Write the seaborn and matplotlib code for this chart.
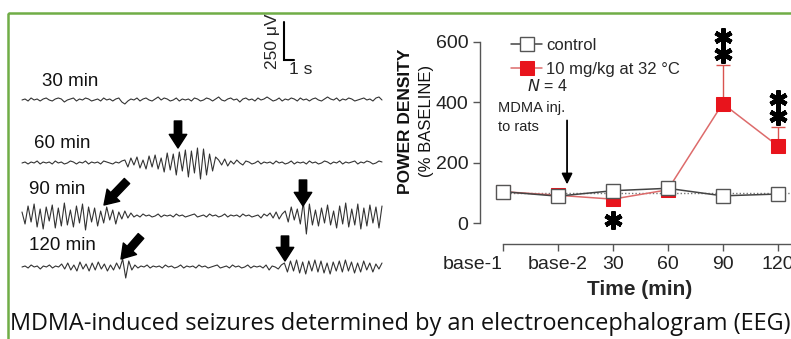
import numpy as np
import pandas as pd
import matplotlib
matplotlib.use("Agg")
import matplotlib.pyplot as plt
import seaborn as sns
from matplotlib.patches import Rectangle

# power density data (% baseline)
times = ["base-1", "base-2", "30", "60", "90", "120"]
control = [104, 89, 107, 115, 90, 96]
mdma = [104, 92, 79, 110, 396, 256]
mdma_err = [0, 0, 0, 0, 127, 61]
stars = [0, 0, 1, 0, 2, 2]

# EEG traces (deflection in px, hand)
eeg_labels = ["30 min", "60 min", "90 min", "120 min"]
eeg_30 = [0, 1, -1, 2, 0, 1, -1, 1, 2, 0, -1, 1, 2, 1, -2, 0, 1, 2, -1, 1, 0, 2, 1, -1, 0, 1, -1, 2, 0, 1,
          -1, 1, 2, -2, -4, -1, 1, 0, 2, -1, 1, 2, 0, -1, 1, 3, 0, 2, 1, -1, 0, 2, -1, 1, 0, 1, -1, 2, 1, -1,
          0, 2, 1, -1, 1, 3, 0, -1, 1, 2, 0, 1, -2, 1, 2, 0, 1, -1, 2, 0, 1, 3, 1, -1, 0, 2, -1, 1, 0, 2,
          1, -1, 2, 0, 1, -1, 1, 2, 0, -1, 1, 3, 1, 0, 2, -1, 1, 0, 2, 1, -1, 0, 1, 2, 0, 1, -1, 2, 3, 0]
eeg_60 = [0, 1, -1, 1, 0, 2, -1, 1, 0, 1, -1, 2, 0, 1, -1, 0, 2, 1, -1, 1, 0, 2, -1, 1, 0, 1, -1, 2, 1, 0,
          -1, 1, 0, 2,
          3, -4, 5, -2, 6, -5, 3, -6, 7, -4, 8, -6, 5, -9, 10, -7, 9, -12, 11, -8, 13, -14, 12, -10, 15, -16,
          14, -12, 9, -8, 6,
          3, -2, 4, -3, 2, -1, 3, 0, -2, 2, 1, -1, 0, 2, -1, 1, 0, 1, -1, 2, 0, 1, -1, 0, 2, -1, 1, 0, 1, -1,
          2, 0, 1, -1, 0, 2, 1, -1, 1, 0, 2, -1, 1, 0, 1, 2, -1, 1, 0, 2, 1, -1, 0, 2, 1]
eeg_90 = [4, -8, 10, -6, 12, -11, 7, -13, 9, -5, 11, -12, 8, -10, 13, -9, 6, -11, 10, -7, 12, -14, 9, -6,
          8, -10, 5, -7, 9, -4, 6, -8, 4, -3, 5, -2, 3, -1,
          1, -1, 2, 0, 1, -1, 0, 2, -1, 1, 0, 1, -1, 2, 0, 1, -1, 0, 1, 2, -1, 0, 1, -1, 2, 0, 1, -1, 0, 2,
          -1, 1, 0, 1, -1, 2, 0, 1, -1, 0, 1, -2, 2, 0, 3, -2, 4, -3, 2,
          5, -6, 9, -4, 7, -8, 14, -18, 12, -9, 6, -10, 8, -7, 11, -9, 5, -12, 10, -8, 13, -11, 7, -9, 12,
          -13, 8, -10, 11, -7, 9, -12, 10]
eeg_120 = [0, 1, -1, 2, 0, 1, -2, 1, 0, 2, -1, 1, 0,
           3, -2, 4, -3, 2, -4, 5, -2, 3, -4, 4, -3, 5, -2, 3, -4, 2, -3, 4, -2,
           8, -11, 6, -3,
           2, -1, 1, 0, 2, -1, 1, 0, 1, -1, 2, 0, 1, -1, 0, 2, -1, 1, 0, 1, -1, 2, 0, 1, -1, 0, 1, 2, -1, 0,
           1, -1, 2, 0, 1, -1, 0, 2, -1, 1, 0, 1, -1, 2, -3, 1, 0, -2, 2,
           4, -5, 6, -4, 7, -6, 5, -7, 6, -4, 7, -5, 6, -6, 4, -7, 5, -4, 6, -5, 7, -4, 5, -6, 4, -5, 6, -3,
           4, -5, 3, -2, 4]
eeg = [eeg_30, eeg_60, eeg_90, eeg_120]

sns.set_style("ticks")
plt.rcParams["font.family"] = ["Liberation Sans", "DejaVu Sans"]

W, H = 791, 339
fig = plt.figure(figsize=(W / 100, H / 100), dpi=100)

# background axes in pixel coordinates
bg = fig.add_axes([0, 0, 1, 1])
bg.set_xlim(0, W)
bg.set_ylim(H, 0)
bg.axis("off")

# green frame
bg.add_patch(Rectangle((8, 13), 785, 340, fill=False, edgecolor="#70ad47", lw=1.8))

# EEG traces
rows_y = [100, 163, 216, 267]
label_pos = [(42, 82), (34, 143), (29, 190), (29, 246)]
for trace, y0, lab, (lx, ly) in zip(eeg, rows_y, eeg_labels, label_pos):
    xs = np.linspace(22, 382, len(trace))
    bg.plot(xs, y0 - np.array(trace), color="#333", lw=0.8)
    bg.text(lx, ly, lab, fontsize=13.5, va="center", ha="left", color="#111")

arrows = [((178, 121), (178, 148)), ((127, 181), (104, 205)), ((303, 180), (303, 206)),
          ((141, 236), (121, 259)), ((285, 236), (285, 261))]
for tail, tip in arrows:
    bg.annotate("", xy=tip, xytext=tail,
                arrowprops=dict(arrowstyle="simple,head_length=0.7,head_width=0.9,tail_width=0.38",
                                color="black", mutation_scale=14, shrinkA=0, shrinkB=0))

# scale bar
bg.plot([284, 284, 294], [22, 60, 60], color="black", lw=1.5, solid_joinstyle="miter")
bg.text(273, 41, "250 \u03bcV", rotation=90, fontsize=12.5, va="center", ha="center")
bg.text(301, 69, "1 s", fontsize=12.5, va="center", ha="center")

# power density chart
px_per_unit = 181 / 600
x0, dx = 502.7, 55
ax = fig.add_axes([480 / W, 1 - 244 / H, (800 - 480) / W, (244 - 20) / H])
ax.patch.set_alpha(0)
df = pd.DataFrame({"pos": np.arange(len(times)), "control": control, "mdma": mdma})

ax.hlines(100, 0, 5.45, colors="#777", linestyles=(0, (1, 1.5)), lw=1, zorder=1)
ax.errorbar(df["pos"], df["mdma"], yerr=[np.zeros(len(mdma)), mdma_err], fmt="none",
            ecolor="#d9534f", elinewidth=1, capsize=5, capthick=1, zorder=2)
sns.lineplot(data=df, x="pos", y="mdma", ax=ax, color="#dd6b6b", lw=1.1, marker="s",
             markersize=10, markerfacecolor="#e8141c", markeredgecolor="#e8141c",
             label="10 mg/kg at 32 \u00b0C", zorder=3)
sns.lineplot(data=df, x="pos", y="control", ax=ax, color="#444", lw=1.1, marker="s",
             markersize=10, markerfacecolor="white", markeredgecolor="#555", markeredgewidth=1,
             label="control", zorder=4)

for i, n in enumerate(stars):
    if n == 0:
        continue
    if mdma[i] < control[i]:
        ys = [mdma[i] - 68]
    else:
        top = mdma[i] + mdma_err[i]
        ys = [top + 37, top + 95][:n]
    ax.plot([i] * len(ys), ys, linestyle="none", marker=(6, 2, 0), markersize=13,
            markeredgewidth=3.2, color="black", clip_on=False, zorder=5)

ax.annotate("", xy=(1.17, 128), xytext=(1.17, 340),
            arrowprops=dict(arrowstyle="-|>", lw=1.3, color="black", mutation_scale=16,
                            shrinkA=0, shrinkB=0))
ax.text(-0.08, 380, "MDMA inj.", fontsize=10.5, va="center", ha="left", color="#222")
ax.text(-0.08, 318, "to rats", fontsize=10.5, va="center", ha="left", color="#222")

h, l = ax.get_legend_handles_labels()
leg = ax.legend(h[::-1], l[::-1], loc="upper left", bbox_to_anchor=(0.075, 0.95), frameon=False,
                fontsize=12, handlelength=1.9, handletextpad=0.25, labelspacing=0.55, borderaxespad=0)
ax.text(0.44, 455, "$N$ = 4", fontsize=11.5, va="center", ha="left", color="#222")

ax.set_xlim(-(x0 - 480) / dx, (800 - x0) / dx)
ax.set_ylim(-(244 - 223) / px_per_unit, 600 + (42 - 20) / px_per_unit)
ax.set_xticks(df["pos"], times)
ax.set_yticks([0, 200, 400, 600])
ax.tick_params(axis="both", labelsize=14, colors="#222", length=5, width=1)
ax.tick_params(axis="both", color="#555")
ax.get_xticklabels()[0].set_horizontalalignment("right")
ax.set_xlabel("Time (min)", fontsize=15, fontweight="bold", labelpad=5)
ax.set_ylabel("")
sns.despine(ax=ax)
ax.spines["left"].set_bounds(0, 600)
ax.spines["bottom"].set_bounds(0, 5.45)
for s in ["left", "bottom"]:
    ax.spines[s].set_color("#555")
    ax.spines[s].set_linewidth(1)

bg.text(405, 121, "POWER DENSITY", rotation=90, fontsize=12.5, fontweight="bold",
        va="center", ha="center", color="#111")
bg.text(426, 121, "(% BASELINE)", rotation=90, fontsize=12, va="center", ha="center", color="#111")

# caption
bg.text(10, 330, "MDMA-induced seizures determined by an electroencephalogram (EEG)",
        family="Open Sans", fontsize=16.9, va="baseline", ha="left", color="#111")

fig.savefig("out.png", dpi=100)
